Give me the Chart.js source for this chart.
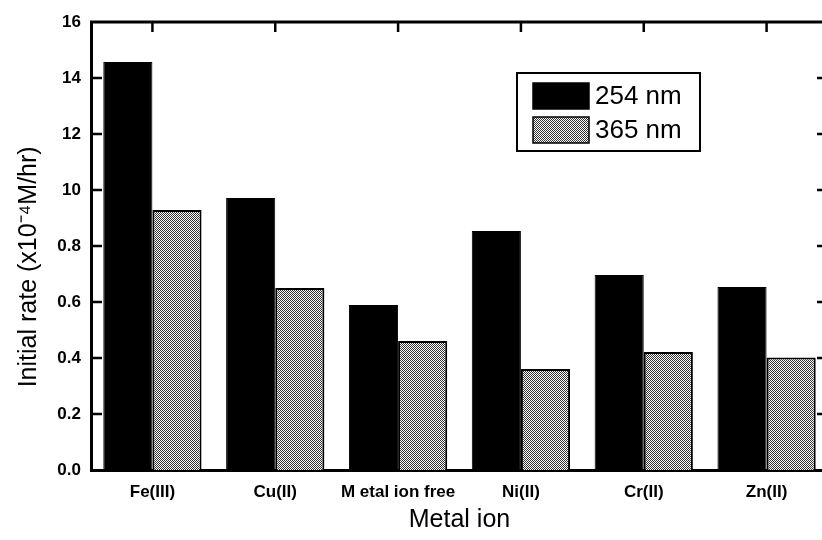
<!DOCTYPE html>
<html>
<head>
<meta charset="utf-8">
<script src="https://cdn.jsdelivr.net/npm/chart.js@4/dist/chart.umd.min.js"></script>
<style>
  html, body { margin: 0; padding: 0; background: #fff; overflow: hidden; }
  #wrap { width: 822px; height: 540px; overflow: hidden; }
</style>
</head>
<body>
<div id="wrap"><canvas id="rate-chart" width="830" height="540"></canvas></div>
<script>
const categories = ["Fe(III)", "Cu(II)", "M etal ion free", "Ni(II)", "Cr(II)", "Zn(II)"];
const rate254 = [1.457, 0.971, 0.589, 0.854, 0.696, 0.654];
const rate365 = [0.929, 0.650, 0.461, 0.361, 0.421, 0.402];
const yTickLabels = ["0.0", "0.2", "0.4", "0.6", "0.8", "10", "12", "14", "16"];
const seriesNames = ["254 nm", "365 nm"];

const FONT = "'Liberation Sans', Arial, sans-serif";

// dotted grey fill like the scanned figure
function makeStipple() {
  const c = document.createElement("canvas");
  c.width = 4;
  c.height = 4;
  const g = c.getContext("2d");
  g.fillStyle = "#fff";
  g.fillRect(0, 0, 4, 4);
  g.fillStyle = "#333";
  for (let y = 0; y < 4; y++) {
    for (let x = 0; x < 4; x++) {
      if ((x + y) % 2 === 0) g.fillRect(x, y, 1, 1);
    }
  }
  return g.createPattern(c, "repeat");
}

const stipple = makeStipple();

// frame on top/right plus inward ticks
const framePlugin = {
  id: "frame",
  afterDraw(chart) {
    const ctx = chart.ctx;
    const a = chart.chartArea;
    const ys = chart.scales.y;
    const xs = chart.scales.x;
    ctx.save();
    ctx.strokeStyle = "#000";
    ctx.lineWidth = 3;
    ctx.beginPath();
    ctx.moveTo(a.left - 1, a.top);
    ctx.lineTo(a.right, a.top);
    ctx.lineTo(a.right, a.bottom);
    ctx.stroke();

    ctx.lineWidth = 2.5;
    ys.ticks.forEach((t, i) => {
      const py = ys.getPixelForTick(i);
      if (i === 0 || i === ys.ticks.length - 1) return;
      ctx.beginPath();
      ctx.moveTo(a.left, py);
      ctx.lineTo(a.left + 11, py);
      ctx.moveTo(a.right, py);
      ctx.lineTo(a.right - 11, py);
      ctx.stroke();
    });
    xs.ticks.forEach((t, i) => {
      const px = xs.getPixelForTick(i);
      ctx.beginPath();
      ctx.moveTo(px, a.top);
      ctx.lineTo(px, a.top + 10);
      ctx.stroke();
    });
    ctx.restore();
  },
};

// legend box inside the plot
const boxLegend = {
  id: "boxLegend",
  afterDraw(chart) {
    const ctx = chart.ctx;
    const a = chart.chartArea;
    const bx = a.left + 426;
    const by = a.top + 51;
    ctx.save();
    ctx.fillStyle = "#fff";
    ctx.fillRect(bx, by, 183, 78);
    ctx.strokeStyle = "#000";
    ctx.lineWidth = 2;
    ctx.strokeRect(bx, by, 183, 78);
    ctx.font = "26px " + FONT;
    ctx.textBaseline = "middle";
    chart.data.datasets.forEach((ds, i) => {
      const sy = by + 10 + i * 34;
      ctx.fillStyle = ds.backgroundColor;
      ctx.fillRect(bx + 16, sy, 56, 26);
      ctx.lineWidth = 1.5;
      ctx.strokeRect(bx + 16, sy, 56, 26);
      ctx.fillStyle = "#000";
      ctx.fillText(ds.label, bx + 78, sy + 14);
    });
    ctx.restore();
  },
};

const ctx = document.getElementById("rate-chart").getContext("2d");
new Chart(ctx, {
  type: "bar",
  data: {
    labels: categories,
    datasets: [
      {
        label: seriesNames[0],
        data: rate254,
        backgroundColor: "#000",
        borderColor: "#000",
        borderWidth: 1,
      },
      {
        label: seriesNames[1],
        data: rate365,
        backgroundColor: stipple,
        borderColor: "#000",
        borderWidth: 2,
      },
    ],
  },
  options: {
    responsive: false,
    animation: false,
    layout: { padding: { left: 0, top: 22, right: 2, bottom: 0 } },
    plugins: {
      legend: { display: false },
      tooltip: { enabled: false },
    },
    datasets: {
      bar: { categoryPercentage: 0.8, barPercentage: 1.0 },
    },
    scales: {
      x: {
        grid: { display: false, drawTicks: false },
        border: { display: true, color: "#000", width: 3 },
        ticks: {
          color: "#000",
          padding: 12,
          font: { family: FONT, size: 17, weight: "bold" },
        },
        title: {
          display: true,
          text: "Metal ion",
          color: "#000",
          padding: { top: 4, bottom: 5 },
          font: { family: FONT, size: 25 },
        },
        afterFit(scale) {
          scale.height = 70;
        },
      },
      y: {
        min: 0,
        max: 1.6,
        grid: { display: false, drawTicks: false },
        border: { display: true, color: "#000", width: 3 },
        ticks: {
          stepSize: 0.2,
          color: "#000",
          padding: 10,
          font: { family: FONT, size: 17, weight: "bold" },
          callback: (value, index) => yTickLabels[index],
        },
        title: {
          display: true,
          text: "Initial rate (x10\u207B\u2074M/hr)      ",
          color: "#000",
          padding: { top: 14, bottom: 0 },
          font: { family: FONT, size: 25 },
        },
        afterFit(scale) {
          scale.width = 91;
        },
      },
    },
  },
  plugins: [framePlugin, boxLegend],
});
</script>
</body>
</html>
